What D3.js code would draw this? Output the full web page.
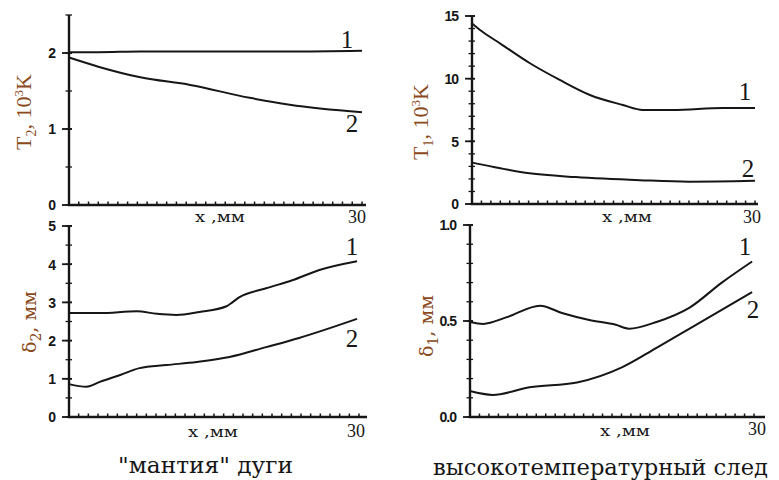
<!DOCTYPE html>
<html>
<head>
<meta charset="utf-8">
<script src="https://cdn.jsdelivr.net/npm/d3@7/dist/d3.min.js"></script>
<style>
  body { margin: 0; background: #fff; }
  svg { display: block; }
</style>
</head>
<body>
<svg id="chart" width="779" height="480"></svg>
<script>
// Axial coordinate, mm
const xDomain = [0, 30];

// T2 (arc "mantle"), 10^3 K
const t2X1 = [0, 3, 7.3, 12.4, 18.5, 22.6, 30];
const t2Y1 = [2.01, 2.01, 2.02, 2.02, 2.02, 2.02, 2.03];
const t2X2 = [0, 3, 7.3, 12.4, 18.5, 22.6, 30];
const t2Y2 = [1.94, 1.82, 1.68, 1.58, 1.41, 1.32, 1.22];

// T1 (high-temperature trail), 10^3 K
const t1X1 = [0, 1, 3, 6.1, 9.3, 12.5, 16, 18.1, 21.3, 26.6, 30];
const t1Y1 = [14.4, 13.8, 12.8, 11.25, 9.9, 8.7, 7.9, 7.5, 7.5, 7.65, 7.65];
const t1X2 = [0, 3, 6.1, 11, 17.8, 23, 30];
const t1Y2 = [3.3, 2.85, 2.45, 2.15, 1.9, 1.78, 1.85];

// delta2 (arc "mantle"), mm
const d2X1 = [0, 3.2, 7, 9.1, 11.1, 13.5, 16.3, 16.9, 17.6, 20.4, 23.1, 25.9, 29.8];
const d2Y1 = [2.72, 2.72, 2.77, 2.7, 2.67, 2.75, 2.9, 3.0, 3.13, 3.37, 3.58, 3.85, 4.08];
const d2X2 = [0, 1.8, 3.2, 5.3, 7.3, 10.1, 13.2, 16.6, 20.4, 23.8, 29.8];
const d2Y2 = [0.86, 0.79, 0.92, 1.1, 1.28, 1.36, 1.44, 1.57, 1.83, 2.07, 2.57];

// delta1 (high-temperature trail), mm
const d1X1 = [0, 1.4, 3.9, 7.4, 9.8, 12.6, 15.4, 16.8, 19.7, 23.2, 26.6, 29.8];
const d1Y1 = [0.495, 0.485, 0.52, 0.58, 0.54, 0.505, 0.48, 0.46, 0.495, 0.57, 0.7, 0.81];
const d1X2 = [0, 2.4, 6.3, 11.3, 16.1, 19.7, 23.2, 29.8];
const d1Y2 = [0.135, 0.115, 0.155, 0.18, 0.26, 0.36, 0.46, 0.65];

// Tick labels
const t2Ticks = [0, 1, 2];
const t1Ticks = [0, 5, 10, 15];
const d2Ticks = [0, 1, 2, 3, 4, 5];
const d1Ticks = [0, 0.5, 1.0];
const curveLabels = ["1", "2"];
const xLabel = "x ,мм";
const xEndLabel = "30";
const leftTitle = "\"мантия\" дуги";
const rightTitle = "высокотемпературный след";

const svg = d3.select("#chart");
const ink = "#161616";
const labelColor = "#8a4a1c";
const serif = "'Liberation Serif', serif";
// Cyrillic captions use a serif face that carries Cyrillic glyphs
const cyrSerif = "'DejaVu Serif', 'Liberation Serif', serif";

const panels = [
  { xs: [t2X1, t2X2], ys: [t2Y1, t2Y2], yDomain: [0, 2.5], ticks: t2Ticks, minor: 0.5, fmt: d3.format("d"),
    left: 69, right30: 362, axisEnd: 366, bottom: 205, top: 15,
    ylab: { x: 23, y: 112, main: "T", sub: "2", rest: ", 10", sup: "3", tail: "K" },
    xlab: [220, 222], endlab: [357, 223],
    lab1: [347, 48], lab2: [352, 132] },
  { xs: [t1X1, t1X2], ys: [t1Y1, t1Y2], yDomain: [0, 15], ticks: t1Ticks, minor: 1, fmt: d3.format("d"),
    left: 472, right30: 755, axisEnd: 758, bottom: 204, top: 16,
    ylab: { x: 420, y: 122, main: "T", sub: "1", rest: ", 10", sup: "3", tail: "K" },
    xlab: [627, 222], endlab: [752, 223],
    lab1: [745, 100], lab2: [748, 177] },
  { xs: [d2X1, d2X2], ys: [d2Y1, d2Y2], yDomain: [0, 5], ticks: d2Ticks, minor: 0.5, fmt: d3.format("d"),
    left: 69, right30: 359, axisEnd: 367, bottom: 417, top: 226,
    ylab: { x: 29, y: 322, main: "δ", sub: "2", rest: ", мм", sup: null, tail: "" },
    xlab: [213, 437], endlab: [356, 437],
    lab1: [352, 255], lab2: [352, 347] },
  { xs: [d1X1, d1X2], ys: [d1Y1, d1Y2], yDomain: [0, 1], ticks: d1Ticks, minor: 0.1, fmt: d3.format(".1f"),
    left: 470, right30: 754, axisEnd: 765, bottom: 417, top: 225,
    ylab: { x: 426, y: 326, main: "δ", sub: "1", rest: ", мм", sup: null, tail: "" },
    xlab: [625, 436], endlab: [757, 435],
    lab1: [745, 255], lab2: [753, 318] }
];

panels.forEach(p => {
  const x = d3.scaleLinear().domain(xDomain).range([p.left, p.right30]);
  const y = d3.scaleLinear().domain(p.yDomain).range([p.bottom, p.top]);
  const g = svg.append("g");

  // minor y ticks
  const nMinor = Math.round((p.yDomain[1] - p.yDomain[0]) / p.minor);
  const minorVals = d3.range(nMinor + 1).map(i => p.yDomain[0] + i * p.minor);
  g.selectAll(".ym").data(minorVals).join("line")
    .attr("x1", p.left - 3.5).attr("x2", p.left + 3)
    .attr("y1", d => y(d)).attr("y2", d => y(d))
    .attr("stroke", ink).attr("stroke-width", 1.3);

  // major y ticks + labels
  g.selectAll(".yM").data(p.ticks).join("line")
    .attr("x1", p.left - 7).attr("x2", p.left + 3)
    .attr("y1", d => y(d)).attr("y2", d => y(d))
    .attr("stroke", ink).attr("stroke-width", 1.8);
  g.selectAll(".yl").data(p.ticks).join("text")
    .attr("x", p.left - 14).attr("y", d => y(d)).attr("dy", "0.38em")
    .attr("text-anchor", "end")
    .attr("font-family", "'Liberation Sans', Arial, sans-serif")
    .attr("font-weight", "bold").attr("font-size", 14).attr("fill", ink)
    .style("letter-spacing", "-1px")
    .text(d => p.fmt(d));

  // dotted x ticks every mm
  g.selectAll(".xm").data(d3.range(1, 31)).join("line")
    .attr("x1", d => x(d)).attr("x2", d => x(d))
    .attr("y1", p.bottom - 3.5).attr("y2", p.bottom)
    .attr("stroke", ink).attr("stroke-width", 1.5);

  // axes lines
  g.append("line").attr("x1", p.left).attr("x2", p.left).attr("y1", p.top).attr("y2", p.bottom + 1)
    .attr("stroke", ink).attr("stroke-width", 2.4);
  g.append("line").attr("x1", p.left - 1).attr("x2", p.axisEnd).attr("y1", p.bottom).attr("y2", p.bottom)
    .attr("stroke", ink).attr("stroke-width", 2.4);

  // x labels
  g.append("text").attr("x", p.xlab[0]).attr("y", p.xlab[1])
    .attr("text-anchor", "middle").attr("font-family", cyrSerif)
    .attr("font-size", 15).attr("fill", ink).attr("textLength", 50)
    .attr("lengthAdjust", "spacingAndGlyphs").text(xLabel);
  g.append("text").attr("x", p.endlab[0]).attr("y", p.endlab[1])
    .attr("text-anchor", "middle").attr("font-family", serif)
    .attr("font-size", 18).attr("fill", ink).text(xEndLabel);

  // curves
  const line = d3.line().curve(d3.curveMonotoneX).x(d => x(d[0])).y(d => y(d[1]));
  p.xs.forEach((xsArr, i) => {
    const pts = xsArr.map((v, j) => [v, p.ys[i][j]]);
    g.append("path").attr("d", line(pts)).attr("fill", "none")
      .attr("stroke", ink).attr("stroke-width", 2);
  });

  // curve numbers
  [p.lab1, p.lab2].forEach((pos, i) => {
    g.append("text").attr("x", pos[0]).attr("y", pos[1])
      .attr("text-anchor", "middle").attr("font-family", serif)
      .attr("font-size", 25).attr("fill", ink).text(curveLabels[i]);
  });

  // rotated y label
  const yl = g.append("text")
    .attr("transform", `translate(${p.ylab.x},${p.ylab.y}) rotate(-90)`)
    .attr("text-anchor", "middle").attr("dy", "0.35em")
    .attr("font-family", p.ylab.sup ? serif : cyrSerif)
    .attr("font-size", p.ylab.sup ? 22 : 19).attr("fill", labelColor);
  yl.append("tspan").text(p.ylab.main);
  yl.append("tspan").attr("font-size", 14).attr("dy", 5).text(p.ylab.sub);
  yl.append("tspan").attr("dy", -5).text(p.ylab.rest);
  if (p.ylab.sup) {
    yl.append("tspan").attr("font-size", 13).attr("dy", -8).text(p.ylab.sup);
    yl.append("tspan").attr("dy", 8).text(p.ylab.tail);
  }
});

// panel captions
svg.append("text").attr("x", 118).attr("y", 473)
  .attr("font-family", cyrSerif).attr("font-size", 23).attr("fill", ink)
  .attr("textLength", 175).attr("lengthAdjust", "spacingAndGlyphs").text(leftTitle);
svg.append("text").attr("x", 433).attr("y", 475)
  .attr("font-family", cyrSerif).attr("font-size", 23).attr("fill", ink)
  .attr("textLength", 335).attr("lengthAdjust", "spacingAndGlyphs").text(rightTitle);
</script>
</body>
</html>
